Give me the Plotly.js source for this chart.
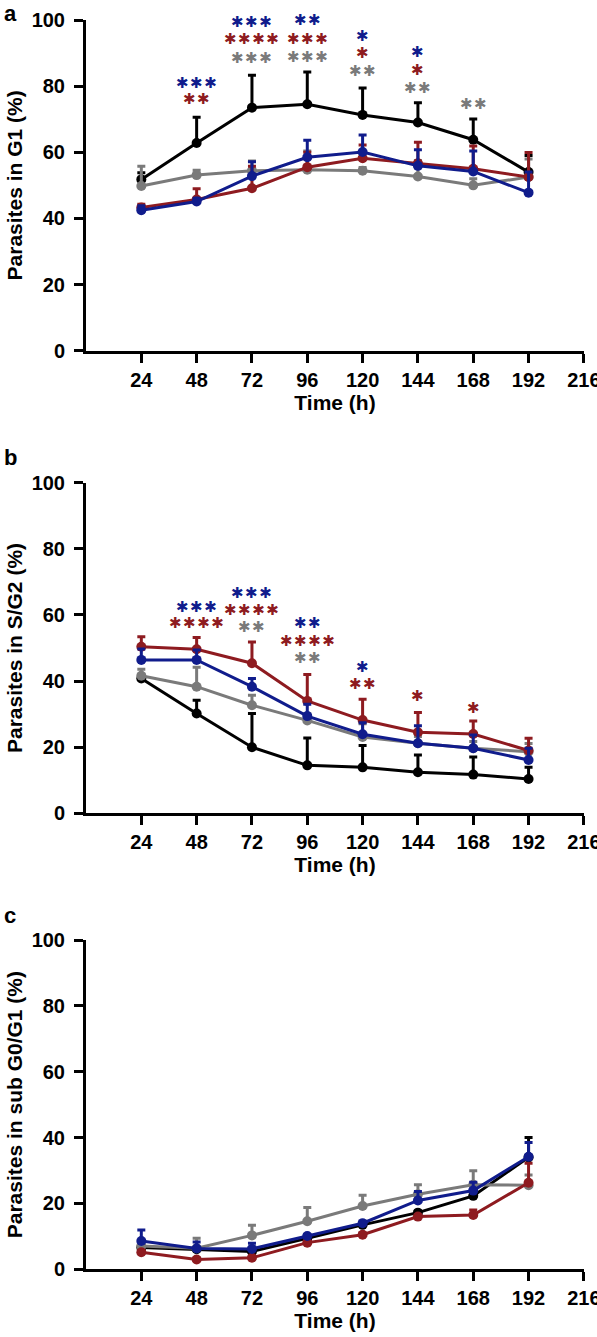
<!DOCTYPE html>
<html>
<head>
<meta charset="utf-8">
<script src="https://cdn.plot.ly/plotly-3.0.1.min.js"></script>
<style>html,body{margin:0;padding:0;background:#fff;}#chart{width:597px;height:1337px;}</style>
</head>
<body>
<div id="chart"></div>
<script>
// ---- data ----
const times = [24, 48, 72, 96, 120, 144, 168, 192];
const tickVals = [24, 48, 72, 96, 120, 144, 168, 192, 216];

// Panel a: G1
const g1Black = [51.8, 62.8, 73.5, 74.5, 71.3, 69.0, 63.8, 54.0];
const g1BlackErr = [2.0, 7.8, 9.8, 9.8, 8.1, 6.0, 6.3, 5.0];
const g1Gray = [49.8, 53.1, 54.4, 54.7, 54.4, 52.7, 50.0, 52.5];
const g1GrayErr = [6.0, 1.5, 3.0, 5.7, 1.0, 4.8, 2.0, 5.5];
const g1Red = [43.3, 45.7, 49.1, 55.5, 58.2, 56.7, 55.0, 52.5];
const g1RedErr = [1.0, 3.3, 6.7, 4.5, 4.0, 6.3, 6.9, 7.4];
const g1Blue = [42.5, 45.1, 52.8, 58.5, 60.1, 55.9, 54.2, 47.8];
const g1BlueErr = [1.3, 1.0, 4.3, 5.1, 5.1, 4.9, 6.2, 6.2];

// Panel b: S/G2
const sgBlack = [40.8, 30.2, 20.0, 14.5, 13.9, 12.4, 11.7, 10.4];
const sgBlackErr = [1.0, 4.0, 10.2, 8.3, 6.6, 5.2, 5.3, 3.5];
const sgGray = [41.6, 38.3, 32.7, 28.1, 23.1, 21.2, 19.7, 18.6];
const sgGrayErr = [2.0, 5.9, 3.0, 2.0, 4.0, 2.0, 2.0, 2.5];
const sgRed = [50.4, 49.6, 45.4, 34.0, 28.2, 24.5, 24.0, 19.0];
const sgRedErr = [3.0, 3.6, 6.4, 8.0, 6.3, 6.0, 3.9, 3.7];
const sgBlue = [46.4, 46.4, 38.3, 29.4, 23.9, 21.2, 19.7, 16.1];
const sgBlueErr = [3.3, 3.0, 2.5, 3.6, 3.5, 5.3, 4.0, 3.6];

// Panel c: sub G0/G1
const subBlack = [6.6, 6.1, 5.4, 9.4, 13.5, 17.2, 22.3, 34.0];
const subBlackErr = [0.5, 0.5, 0.5, 0.5, 0.5, 0.5, 0.5, 6.0];
const subGray = [7.1, 6.4, 10.3, 14.6, 19.2, 22.8, 25.7, 25.5];
const subGrayErr = [1.0, 3.0, 3.1, 4.2, 3.3, 2.9, 4.2, 3.1];
const subRed = [5.2, 3.0, 3.5, 8.1, 10.5, 16.0, 16.5, 26.3];
const subRedErr = [0.5, 0.5, 0.5, 0.5, 0.5, 0.5, 1.5, 5.9];
const subBlue = [8.6, 6.3, 6.2, 10.1, 14.0, 20.9, 23.9, 34.2];
const subBlueErr = [3.3, 2.0, 1.7, 0.5, 0.7, 2.7, 2.5, 4.3];

// significance stars
const starsAX = [48, 48, 72, 72, 72, 96, 96, 96, 120, 120, 120, 144, 144, 144, 168];
const starsAY = [81.0, 76.0, 99.5, 94.3, 88.5, 100.0, 94.2, 88.7, 95.3, 90.0, 84.5, 90.2, 85.0, 79.5, 74.6];
const starsAN = [3, 2, 3, 4, 3, 2, 3, 3, 1, 1, 2, 1, 1, 2, 2];
const starsAC = ['blue', 'red', 'blue', 'red', 'gray', 'blue', 'red', 'gray', 'blue', 'red', 'gray', 'blue', 'red', 'gray', 'gray'];

const starsBX = [48, 48, 72, 72, 72, 96, 96, 96, 120, 120, 144, 168];
const starsBY = [62.5, 57.7, 66.7, 61.5, 56.5, 57.7, 52.2, 46.9, 44.2, 39.0, 35.5, 32.0];
const starsBN = [3, 4, 3, 4, 2, 2, 4, 2, 1, 2, 1, 1];
const starsBC = ['blue', 'red', 'blue', 'red', 'gray', 'blue', 'red', 'gray', 'blue', 'red', 'red', 'red'];

// ---- styling ----
const COLORS = {black: '#000000', gray: '#7a7a7a', red: '#8e1b20', blue: '#101c8c'};
const FONT = 'Liberation Sans, Arial, Helvetica, sans-serif';
const W = 597, H = 1337;

function series(y, err, color, xa, ya) {
  return {
    x: times, y: y, xaxis: xa, yaxis: ya, type: 'scatter', mode: 'lines+markers',
    line: {color: color, width: 3},
    marker: {color: color, size: 10},
    error_y: {type: 'data', symmetric: false, array: err, arrayminus: err.map(() => 0),
              color: color, thickness: 3, width: 4},
    showlegend: false, hoverinfo: 'x+y'
  };
}

const traces = [
  series(g1Black, g1BlackErr, COLORS.black, 'x', 'y'),
  series(g1Gray, g1GrayErr, COLORS.gray, 'x', 'y'),
  series(g1Red, g1RedErr, COLORS.red, 'x', 'y'),
  series(g1Blue, g1BlueErr, COLORS.blue, 'x', 'y'),
  series(sgBlack, sgBlackErr, COLORS.black, 'x2', 'y2'),
  series(sgGray, sgGrayErr, COLORS.gray, 'x2', 'y2'),
  series(sgRed, sgRedErr, COLORS.red, 'x2', 'y2'),
  series(sgBlue, sgBlueErr, COLORS.blue, 'x2', 'y2'),
  series(subBlack, subBlackErr, COLORS.black, 'x3', 'y3'),
  series(subGray, subGrayErr, COLORS.gray, 'x3', 'y3'),
  series(subRed, subRedErr, COLORS.red, 'x3', 'y3'),
  series(subBlue, subBlueErr, COLORS.blue, 'x3', 'y3')
];

function px2paperY(p) { return 1 - p / H; }

function xAxis(anchor) {
  return {
    domain: [86 / W, 584 / W], anchor: anchor, range: [0, 216.05],
    tickmode: 'array', tickvals: tickVals, ticktext: tickVals.map(String),
    ticklabeloverflow: 'allow',
    ticks: 'outside', ticklen: 9, tickwidth: 3, tickcolor: '#000', ticklabelstandoff: 0,
    showline: true, linewidth: 3, linecolor: '#000', showgrid: false, zeroline: false,
    tickfont: {family: FONT, size: 20, color: '#000', weight: 'bold'},
    title: {text: 'Time (h)', font: {family: FONT, size: 21, color: '#000', weight: 'bold'}, standoff: 4},
    automargin: false, fixedrange: true
  };
}
function yAxis(anchor, y0px, y100px, title) {
  return {
    domain: [px2paperY(y0px), px2paperY(y100px)], anchor: anchor, range: [0, 100],
    tickvals: [0, 20, 40, 60, 80, 100],
    ticks: 'outside', ticklen: 9, tickwidth: 3, tickcolor: '#000', ticklabelstandoff: 5,
    showline: true, linewidth: 3, linecolor: '#000', showgrid: false, zeroline: false,
    tickfont: {family: FONT, size: 20, color: '#000', weight: 'bold'},
    title: {text: title, font: {family: FONT, size: 21, color: '#000', weight: 'bold'}, standoff: 4},
    automargin: false, fixedrange: true
  };
}

function starAnnots(xs, ys, ns, cs, xref, yref) {
  return xs.map((x, i) => ({
    x: x, y: ys[i], xref: xref, yref: yref, showarrow: false,
    text: Array(ns[i]).fill('\u2731').join('\u200A'), xanchor: 'center', yanchor: 'middle',
    height: 12, borderpad: 0, valign: 'middle',
    font: {family: 'DejaVu Sans', size: 15, color: COLORS[cs[i]]}
  }));
}

const panelLabels = [['a', 13], ['b', 457], ['c', 915]].map(([t, py]) => ({
  text: t, xref: 'paper', yref: 'paper', x: 2 / W, y: px2paperY(py),
  xanchor: 'left', yanchor: 'middle', showarrow: false,
  font: {family: FONT, size: 22, color: '#000', weight: 'bold'}
}));

const layout = {
  width: W, height: H, margin: {l: 0, r: 0, t: 0, b: 0},
  paper_bgcolor: '#fff', plot_bgcolor: '#fff',
  xaxis: xAxis('y'), yaxis: yAxis('x', 350.7, 20, 'Parasites in G1 (%)'),
  xaxis2: xAxis('y2'), yaxis2: yAxis('x2', 813.3, 482.7, 'Parasites in S/G2 (%)'),
  xaxis3: xAxis('y3'), yaxis3: yAxis('x3', 1269.3, 940, 'Parasites in sub G0/G1 (%)'),
  annotations: [].concat(
    starAnnots(starsAX, starsAY, starsAN, starsAC, 'x', 'y'),
    starAnnots(starsBX, starsBY, starsBN, starsBC, 'x2', 'y2'),
    panelLabels
  ),
  showlegend: false
};

Plotly.newPlot('chart', traces, layout, {staticPlot: true, displayModeBar: false});
</script>
</body>
</html>
